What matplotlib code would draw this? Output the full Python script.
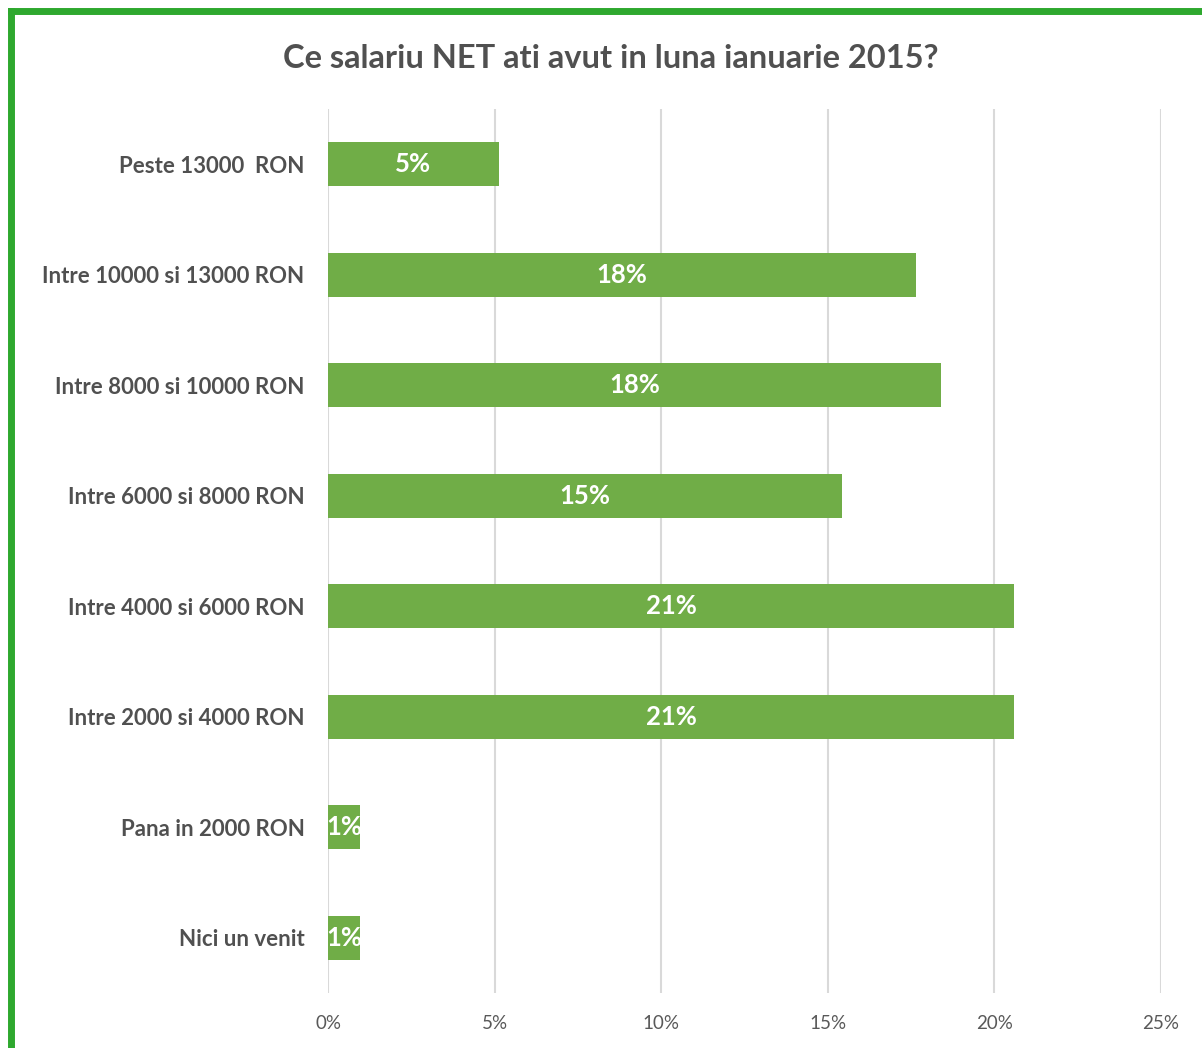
import matplotlib
matplotlib.use("Agg")
import matplotlib.pyplot as plt
from matplotlib.lines import Line2D

categories = ["Peste 13000  RON", "Intre 10000 si 13000 RON", "Intre 8000 si 10000 RON",
              "Intre 6000 si 8000 RON", "Intre 4000 si 6000 RON", "Intre 2000 si 4000 RON",
              "Pana in 2000 RON", "Nici un venit"]
values = [5.13, 17.65, 18.4, 15.43, 20.6, 20.6, 0.96, 0.96]
labels = ["5%", "18%", "18%", "15%", "21%", "21%", "1%", "1%"]
xticks = [0, 5, 10, 15, 20, 25]
xticklabels = ["0%", "5%", "10%", "15%", "20%", "25%"]
title = "Ce salariu NET ati avut in luna ianuarie 2015?"

plt.rcParams['font.family'] = ['Lato', 'DejaVu Sans']

fig = plt.figure(figsize=(12.02, 10.48), dpi=100)
ax = fig.add_axes([328/1202, 1-993/1048, (1161-328)/1202, (993-109)/1048])

ypos = list(range(len(categories)))
ax.barh(ypos, values, height=0.4, color="#70AD47", zorder=3)
for y, v, lab in zip(ypos, values, labels):
    ax.text(v/2, y, lab, ha="center", va="center", color="white",
            fontsize=18.5, fontweight="bold", zorder=4)

ax.set_xlim(0, 25)
ax.set_ylim(len(categories)-0.5, -0.5)
ax.set_xticks(xticks)
ax.set_xticklabels(xticklabels, color="#595959", fontsize=13.5)
ax.set_yticks(ypos)
ax.set_yticklabels(categories, color="#505050", fontsize=16, fontweight="bold")
ax.tick_params(axis="both", length=0)
ax.tick_params(axis="x", pad=16)
ax.tick_params(axis="y", pad=17)
ax.grid(axis="x", color="#D9D9D9", linewidth=1.5, zorder=0)
for s in ax.spines.values():
    s.set_visible(False)

fig.text(611/1202, 1-58/1048, title, ha="center", va="center", fontsize=23.5,
         color="#505050", fontweight="bold")

# green frame on top and left
fig.add_artist(Line2D([11/1202, 11/1202], [0, 1-11/1048], transform=fig.transFigure,
                      color="#2EA82E", linewidth=5))
fig.add_artist(Line2D([11/1202, 1], [1-11/1048, 1-11/1048], transform=fig.transFigure,
                      color="#2EA82E", linewidth=5))

fig.savefig("out.png", dpi=100, facecolor="white")
